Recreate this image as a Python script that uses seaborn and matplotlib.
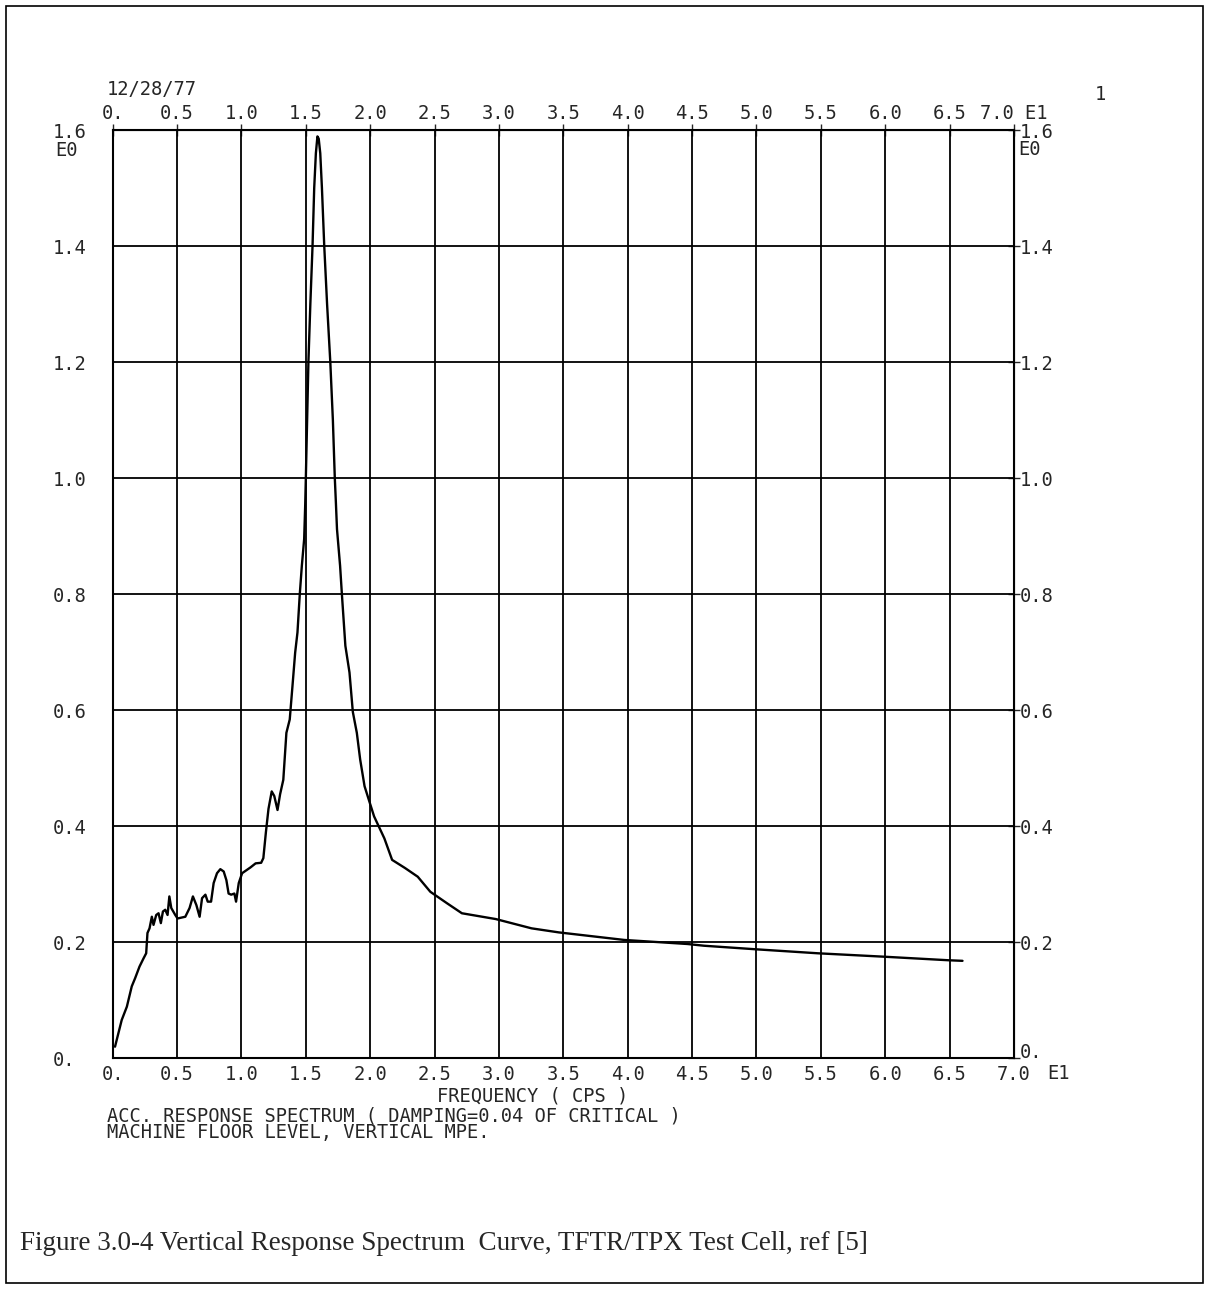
import numpy as np
import pandas as pd
import matplotlib
matplotlib.use("Agg")
import matplotlib.pyplot as plt
import seaborn as sns
from matplotlib.patches import Rectangle

# frequency axis is in units of E1 (x10 cps), acceleration in E0
freq = [0.018, 0.07, 0.11, 0.148, 0.174, 0.208, 0.239, 0.26, 0.27, 0.286,
        0.304, 0.317, 0.338, 0.356, 0.374, 0.39, 0.408, 0.426, 0.44, 0.455,
        0.486, 0.504, 0.564, 0.597, 0.623, 0.65, 0.675, 0.694, 0.72, 0.738,
        0.764, 0.784, 0.81, 0.836, 0.862, 0.883, 0.9, 0.92, 0.945, 0.958,
        0.979, 1.005, 1.07, 1.11, 1.153, 1.17, 1.19, 1.21, 1.235, 1.255,
        1.28, 1.30, 1.325, 1.349, 1.375, 1.396, 1.417, 1.435, 1.453, 1.469,
        1.487, 1.495, 1.5, 1.51, 1.52, 1.535, 1.552, 1.565, 1.578, 1.59,
        1.6, 1.612, 1.625, 1.643, 1.665, 1.69, 1.71, 1.725, 1.733, 1.742,
        1.766, 1.78, 1.807, 1.839, 1.865, 1.896, 1.922, 1.956, 1.99, 2.03,
        2.11, 2.17, 2.27, 2.369, 2.467, 2.598, 2.712, 2.975, 3.253, 3.465,
        3.973, 4.464, 4.594, 4.987, 5.477, 6.0, 6.49, 6.6]
accel = [0.02, 0.066, 0.089, 0.124, 0.138, 0.158, 0.172, 0.181, 0.216, 0.224,
         0.244, 0.23, 0.247, 0.25, 0.233, 0.253, 0.256, 0.247, 0.279, 0.259,
         0.247, 0.241, 0.244, 0.259, 0.279, 0.264, 0.244, 0.276, 0.282, 0.27,
         0.27, 0.302, 0.319, 0.326, 0.322, 0.307, 0.284, 0.282, 0.284, 0.27,
         0.302, 0.319, 0.329, 0.336, 0.337, 0.345, 0.39, 0.43, 0.46, 0.452,
         0.428, 0.455, 0.48, 0.561, 0.584, 0.641, 0.699, 0.734, 0.8, 0.849,
         0.895, 0.953, 1.0, 1.1, 1.2, 1.3, 1.4, 1.5, 1.56, 1.589,
         1.585, 1.56, 1.5, 1.4, 1.3, 1.2, 1.1, 1.0, 0.96, 0.912,
         0.849, 0.8, 0.711, 0.665, 0.597, 0.561, 0.515, 0.469, 0.445, 0.417,
         0.379, 0.342, 0.328, 0.313, 0.287, 0.267, 0.25, 0.24, 0.224, 0.217,
         0.204, 0.197, 0.194, 0.188, 0.181, 0.175, 0.169, 0.168]

x_ticks = [0.0, 0.5, 1.0, 1.5, 2.0, 2.5, 3.0, 3.5, 4.0, 4.5, 5.0, 5.5, 6.0, 6.5, 7.0]
x_labels = ["0.", "0.5", "1.0", "1.5", "2.0", "2.5", "3.0", "3.5", "4.0", "4.5",
            "5.0", "5.5", "6.0", "6.5", "7.0"]
x_labels_top = x_labels[:-1] + ["7.0 E1"]
y_ticks = [0.0, 0.2, 0.4, 0.6, 0.8, 1.0, 1.2, 1.4, 1.6]
y_labels = ["0.", "0.2", "0.4", "0.6", "0.8", "1.0", "1.2", "1.4", "1.6"]

df = pd.DataFrame({"freq": freq, "accel": accel})

sns.set_style("white")
plt.rcParams['font.family'] = ['DejaVu Sans Mono', 'DejaVu Sans']

W, H = 1209, 1290
fs = 13.5
fig = plt.figure(figsize=(W / 100, H / 100), dpi=100)
ax = fig.add_axes([112.7 / W, 1 - 1058.3 / H, (1014 - 112.7) / W, (1058.3 - 130) / H])

sns.lineplot(data=df, x="freq", y="accel", ax=ax, color="black", lw=1.7,
             sort=False, estimator=None)

ax.set_xlim(0, 7.0)
ax.set_ylim(0, 1.6)
ax.set_xlabel("")
ax.set_ylabel("")
ax.set_xticks(x_ticks)
ax.set_xticklabels(x_labels)
ax.set_yticks(y_ticks)
ax.set_yticklabels(y_labels, ha="left")
ax.grid(True, color="black", lw=1.3)
for s in ax.spines.values():
    s.set_color("black")
    s.set_linewidth(1.5)
ax.tick_params(axis="x", direction="inout", length=8, width=1, pad=1, labelsize=fs)
ax.tick_params(axis="y", direction="inout", length=8, width=1, pad=39, labelsize=fs)

top = ax.secondary_xaxis("top")
top.set_xticks(x_ticks)
top.set_xticklabels(x_labels_top)
top.tick_params(direction="inout", length=8, width=1, pad=1, labelsize=fs)

right = ax.secondary_yaxis("right")
right.set_yticks(y_ticks)
right.set_yticklabels(y_labels)
right.tick_params(direction="inout", length=8, width=1, pad=0, labelsize=fs)
# lowest right label sits just above the 7.0 tick label
right.get_yticklabels()[0].set_verticalalignment("baseline")

def px(x, y, s, **kw):
    fig.text(x / W, 1 - y / H, s, **kw)

px(107, 95, "12/28/77", fontsize=fs, va="baseline")
px(1095, 100, "1", fontsize=fs, va="baseline")
px(55, 156, "E0", fontsize=fs, va="baseline")
px(1018, 155, "E0", fontsize=fs, va="baseline")
px(1047, 1079, "E1", fontsize=fs, va="baseline")
px(533, 1102, "FREQUENCY ( CPS )", fontsize=fs, ha="center", va="baseline")
px(107, 1106, "ACC. RESPONSE SPECTRUM ( DAMPING=0.04 OF CRITICAL )\n"
   "MACHINE FLOOR LEVEL, VERTICAL MPE.", fontsize=fs, va="top", linespacing=0.85)
px(20, 1250, "Figure 3.0-4 Vertical Response Spectrum  Curve, TFTR/TPX Test Cell, ref [5]",
   fontsize=19.5, family="Liberation Serif", va="baseline")

fig.patches.append(Rectangle((6 / W, 1 - 1283 / H), (1203 - 6) / W, (1283 - 6) / H,
                             transform=fig.transFigure, fill=False, ec="black", lw=1.2))

fig.savefig("out.png", dpi=100)
